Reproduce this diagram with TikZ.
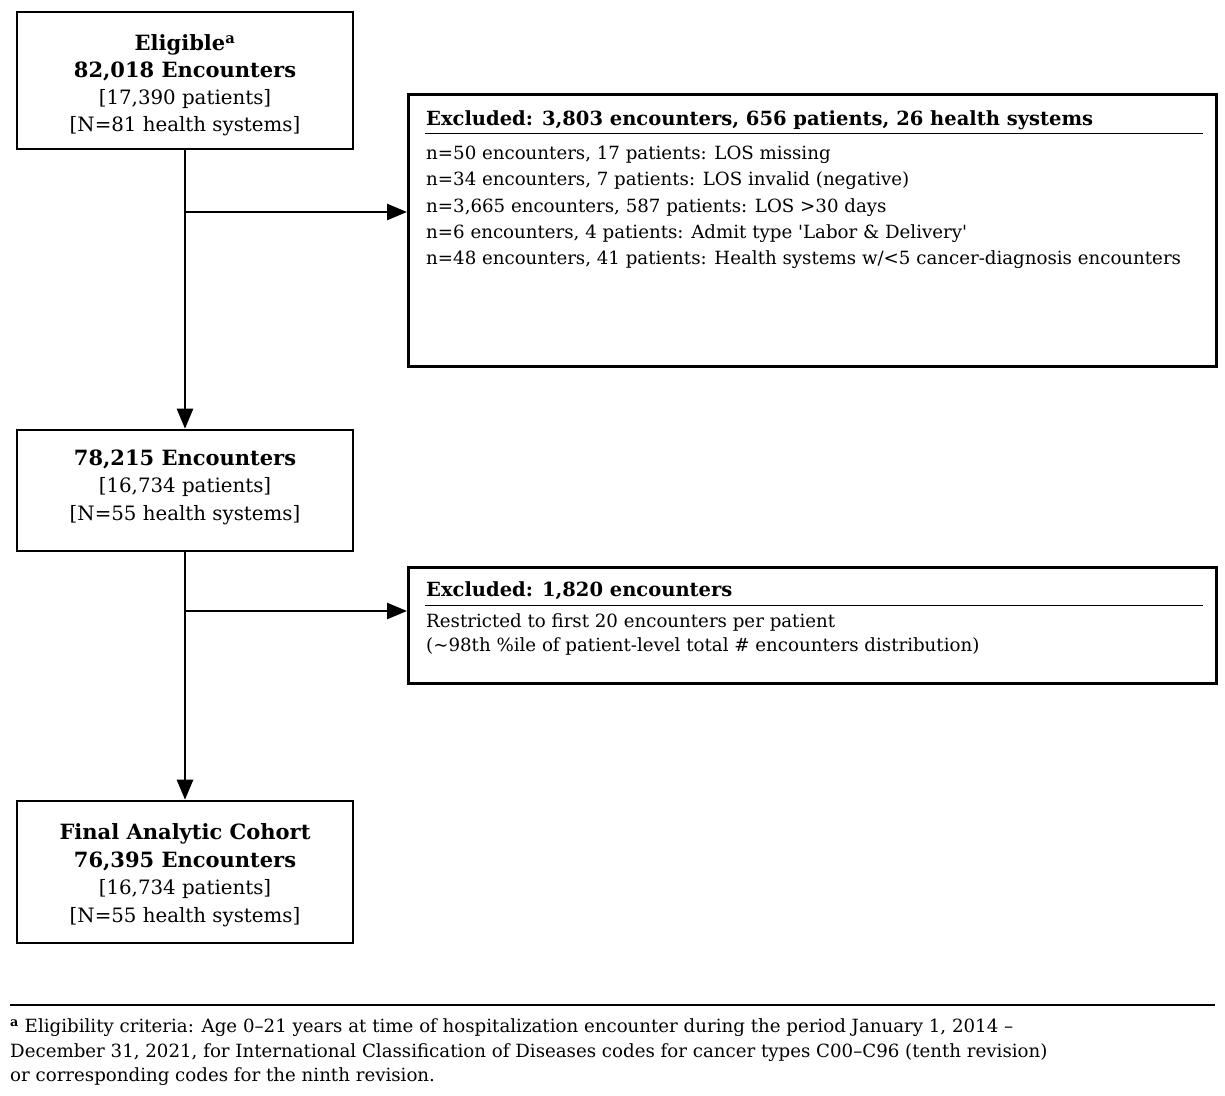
\documentclass[tikz,border=0pt]{standalone}
\usepackage{fontspec}
\setmainfont{DejaVu Serif}
\usetikzlibrary{arrows.meta}
\newcommand{\hd}[1]{{\bfseries\fontsize{21}{27.5}\selectfont #1}}

\begin{document}
\begin{tikzpicture}[x=1pt,y=-1pt,
  stage/.style={draw,line width=2.6pt,minimum width=336pt,align=center,inner sep=0pt,
    font=\fontsize{19.8}{27.5}\selectfont},
  exclbox/.style={draw,line width=2.6pt,minimum width=808pt,anchor=north west,inner sep=0pt},
  exclhead/.style={anchor=base west,inner sep=0pt,font=\bfseries\fontsize{19.5}{26}\selectfont},
  excltext/.style={anchor=north west,align=left,inner sep=0pt,font=\fontsize{18.2}{26.2}\selectfont},
  flow/.style={line width=2.6pt,-{Triangle[length=20pt,width=16pt]}}]
\useasboundingbox (0,0) rectangle (1225,1095);
% main stages
\node [stage,minimum height=137pt,font=\fontsize{19.8}{26.8}\selectfont] (elig) at (185,80.5)
  {\rule{0pt}{25pt}\hd{Eligible\textsuperscript{a}}\\ \hd{82,018 Encounters}\\ {[}17,390 patients{]}\\ {[}N=81 health systems{]}};
\node [stage,minimum height=121pt] (mid) at (185,490.5)
  {\hd{78,215 Encounters}\\ {[}16,734 patients{]}\\ {[}N=55 health systems{]}\rule[-11pt]{0pt}{0pt}};
\node [stage,minimum height=142pt] (final) at (185,872)
  {\rule{0pt}{22pt}\hd{Final Analytic Cohort}\\ \hd{76,395 Encounters}\\ {[}16,734 patients{]}\\ {[}N=55 health systems{]}};
% exclusions
\node [exclbox,minimum height=272pt] (excl1) at (407,93) {};
\node [exclhead] (head1) at (426,125) {Excluded: 3,803 encounters, 656 patients, 26 health systems};
\draw [line width=1pt] (425,133) -- (1203,133);
\node [excltext] (list1) at (426,146) {n=50 encounters, 17 patients: LOS missing\\
  n=34 encounters, 7 patients: LOS invalid (negative)\\
  n=3,665 encounters, 587 patients: LOS >30 days\\
  n=6 encounters, 4 patients: Admit type \textquotesingle Labor \& Delivery\textquotesingle\\
  n=48 encounters, 41 patients: Health systems w/<5 cancer-diagnosis encounters};
\node [exclbox,minimum height=116pt] (excl2) at (407,566) {};
\node [exclhead] (head2) at (426,596) {Excluded: 1,820 encounters};
\draw [line width=1pt] (425,605) -- (1203,605);
\node [excltext,font=\fontsize{18.2}{24}\selectfont] (list2) at (426,613) {Restricted to first 20 encounters per patient\\
  (\textasciitilde98th \%ile of patient-level total \# encounters distribution)};
% connectors
\coordinate (br1) at (185,212);
\coordinate (br2) at (185,611);
\draw [flow] (elig.south) -- (mid.north);
\draw [flow] (br1) -- (br1 -| excl1.west);
\draw [flow] (mid.south) -- (final.north);
\draw [flow] (br2) -- (br2 -| excl2.west);
% footnote
\draw [line width=1.2pt] (10,1005) -- (1215,1005);
\node [anchor=north west,align=left,inner sep=0pt,font=\fontsize{18.2}{24.5}\selectfont] (note) at (10,1018.5)
  {\textsuperscript{\bfseries a} Eligibility criteria: Age 0–21 years at time of hospitalization encounter during the period January 1, 2014 –\\
  December 31, 2021, for International Classification of Diseases codes for cancer types C00–C96 (tenth revision)\\
  or corresponding codes for the ninth revision.};
\end{tikzpicture}
\end{document}
